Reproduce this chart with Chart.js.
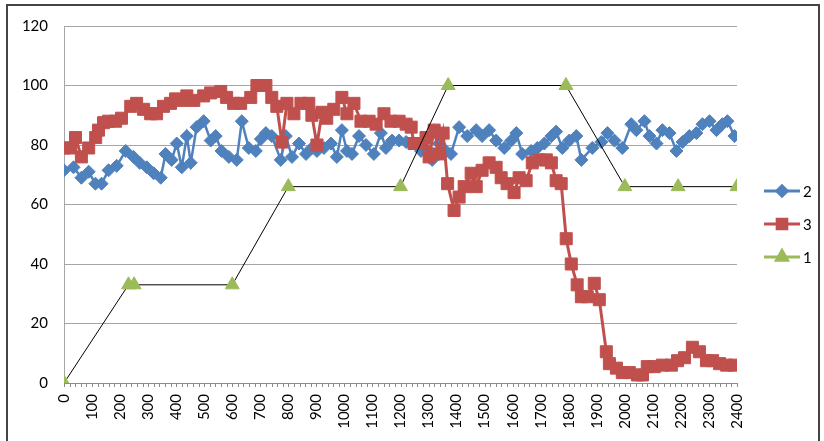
<!DOCTYPE html>
<html>
<head>
<meta charset="utf-8">
<script src="https://cdn.jsdelivr.net/npm/chart.js@4"></script>
<style>
  body { margin: 0; background: #fff; }
  #wrap { width: 824px; height: 441px; }
</style>
</head>
<body>
<div id="wrap"><canvas id="chart" width="824" height="441"></canvas></div>
<script>
// series "2" (blue diamonds)
const blueX = [0, 34, 62, 88, 112, 134, 159, 188, 220, 248, 270, 295, 320, 345, 362, 384, 402, 420, 438, 452, 473, 498, 523, 541, 562, 588, 616, 634, 659, 684, 702, 720, 741, 773, 791, 813, 838, 863, 884, 902, 927, 952, 973, 991, 1009, 1027, 1052, 1077, 1105, 1130, 1148, 1170, 1195, 1220, 1241, 1273, 1302, 1313, 1338, 1362, 1380, 1409, 1438, 1470, 1491, 1516, 1541, 1570, 1595, 1613, 1634, 1666, 1688, 1713, 1738, 1755, 1777, 1802, 1827, 1845, 1884, 1916, 1938, 1963, 1991, 2023, 2041, 2070, 2088, 2113, 2134, 2159, 2184, 2206, 2230, 2255, 2277, 2302, 2327, 2348, 2366, 2391];
const blueY = [71.5, 72.5, 69, 71, 67, 67, 71.5, 73, 78, 76, 74, 72.5, 70.5, 69, 77, 75, 80.5, 72.5, 83, 74, 86, 88, 81.5, 83, 78, 76, 75, 88, 79, 78, 82, 84, 83, 75, 83, 76, 80.5, 77, 79, 78, 79, 80.5, 76, 85, 78, 77, 83, 80, 77, 84, 79, 81.5, 81.5, 81, 80.5, 78, 78, 75, 80.5, 78, 77, 86, 83, 85, 83, 85, 81.5, 79, 81.5, 84, 77, 78, 79, 80.5, 83, 84.5, 79, 81.5, 83, 75, 79, 81, 84, 81.5, 79, 87, 85, 88, 83, 80.5, 85, 84, 78, 81, 83, 84, 87, 88, 85, 87, 88, 83];

// series "3" (red squares)
const redX = [0, 23, 41, 62, 88, 113, 123, 141, 159, 184, 205, 238, 259, 284, 309, 330, 355, 380, 398, 420, 438, 463, 498, 523, 559, 580, 605, 630, 666, 688, 720, 741, 759, 777, 795, 820, 845, 873, 884, 902, 920, 937, 962, 991, 1009, 1034, 1059, 1088, 1113, 1141, 1166, 1195, 1220, 1238, 1248, 1273, 1291, 1302, 1320, 1338, 1352, 1368, 1391, 1409, 1427, 1452, 1470, 1491, 1516, 1541, 1559, 1580, 1605, 1623, 1648, 1670, 1695, 1720, 1738, 1755, 1773, 1791, 1809, 1830, 1845, 1866, 1891, 1909, 1934, 1945, 1970, 1991, 2016, 2045, 2063, 2080, 2105, 2134, 2166, 2188, 2213, 2241, 2266, 2291, 2313, 2338, 2363, 2391];
const redY = [79, 79, 82.5, 76, 79, 82.5, 85, 87.5, 88, 88, 89, 93, 94, 92, 90.5, 90.5, 93, 94, 95.5, 95, 96.5, 95, 96.5, 97.5, 98, 96, 94, 94, 96, 100, 100, 96, 93, 81, 94, 90.5, 94, 94, 90, 80, 91, 89, 92, 96, 90.5, 94, 88, 88, 87, 90.5, 88, 88, 87, 86, 80.5, 80.5, 82.5, 76, 85, 77, 84, 67, 58, 62.5, 66, 70.5, 66, 71.5, 74, 72.5, 69, 67, 64, 69, 68, 74, 75, 75, 74, 68, 67, 48.5, 40, 33, 29, 29, 33.5, 28, 10.5, 6.5, 5, 3.5, 3.5, 2.7, 2.7, 5.5, 5.5, 6, 6, 7.5, 8.5, 12, 10.5, 7.5, 7.5, 6.5, 6, 6];

// series "1" (green triangles)
const greenX = [0, 230, 250, 600, 800, 1200, 1370, 1790, 2000, 2190, 2400];
const greenY = [0, 33, 33, 33, 66, 66, 100, 100, 66, 66, 66];

const xTicks = { min: 0, max: 2400, step: 100, minor: 20 };
const yTicks = { min: 0, max: 120, step: 20 };

const pts = (xs, ys) => xs.map((x, i) => ({ x: x, y: ys[i] }));

const FONT = "Lato, 'Open Sans', sans-serif";

const frame = {
  id: "frame",
  beforeDraw(chart) {
    const ctx = chart.ctx;
    ctx.save();
    ctx.fillStyle = "#fff";
    ctx.fillRect(0, 0, chart.width, chart.height);
    ctx.strokeStyle = "#444";
    ctx.lineWidth = 2;
    ctx.strokeRect(7, 5, 812, 445);
    ctx.restore();
  },
  afterDraw(chart) {
    // minor tick marks on the x axis
    const ctx = chart.ctx;
    const xs = chart.scales.x;
    const bottom = chart.chartArea.bottom;
    ctx.save();
    ctx.strokeStyle = "#8c8c8c";
    ctx.lineWidth = 1;
    ctx.beginPath();
    for (let v = xTicks.min; v <= xTicks.max; v += xTicks.minor) {
      const px = Math.round(xs.getPixelForValue(v)) + 0.5;
      ctx.moveTo(px, bottom);
      ctx.lineTo(px, bottom + 4);
    }
    ctx.stroke();

    // Excel-like legend: line + marker + label
    const order = [2, 1, 0];
    const labels = ["2", "3", "1"];
    const lineCols = ["#4F81BD", "#C0504D", "#9BBB59"];
    order.forEach((di, k) => {
      const ds = chart.data.datasets[di];
      const y = 191 + k * 33;
      ctx.strokeStyle = lineCols[k];
      ctx.lineWidth = 3;
      ctx.beginPath();
      ctx.moveTo(764, y);
      ctx.lineTo(800, y);
      ctx.stroke();
      ctx.fillStyle = ds.pointBackgroundColor;
      ctx.strokeStyle = ds.pointBorderColor;
      Chart.helpers.drawPoint(ctx, {
        pointStyle: ds.pointStyle,
        radius: ds.pointRadius * 0.8,
        borderWidth: 1,
        rotation: 0
      }, 782, y);
      ctx.fillStyle = "#000";
      ctx.font = "15px " + FONT;
      ctx.textBaseline = "middle";
      ctx.textAlign = "left";
      ctx.fillText(labels[k], 803, y + 1);
    });
    ctx.restore();
  }
};

new Chart(document.getElementById("chart"), {
  type: "scatter",
  data: {
    datasets: [
      {
        label: "1",
        data: pts(greenX, greenY),
        showLine: true,
        borderColor: "#000",
        borderWidth: 1,
        pointStyle: "triangle",
        pointRadius: 8,
        pointBackgroundColor: "#9BBB59",
        pointBorderColor: "#9BBB59",
        pointBorderWidth: 1,
        order: 1
      },
      {
        label: "3",
        data: pts(redX, redY),
        showLine: true,
        borderColor: "#C0504D",
        borderWidth: 3,
        pointStyle: "rect",
        pointRadius: 8.5,
        pointBackgroundColor: "#C0504D",
        pointBorderColor: "#C0504D",
        pointBorderWidth: 1,
        order: 2
      },
      {
        label: "2",
        data: pts(blueX, blueY),
        showLine: true,
        borderColor: "#4F81BD",
        borderWidth: 2.5,
        pointStyle: "rectRot",
        pointRadius: 6.5,
        pointBackgroundColor: "#4F81BD",
        pointBorderColor: "#4F81BD",
        pointBorderWidth: 1,
        order: 3
      }
    ]
  },
  options: {
    responsive: false,
    animation: false,
    layout: { padding: { left: 0, top: 26, right: 87, bottom: 0 } },
    plugins: {
      legend: { display: false },
      tooltip: { enabled: false }
    },
    elements: { line: { tension: 0 } },
    scales: {
      x: {
        type: "linear",
        min: xTicks.min,
        max: xTicks.max,
        afterFit(scale) { scale.height = 58; },
        grid: { display: false, drawTicks: false },
        border: { display: true, color: "#8c8c8c", width: 1 },
        ticks: {
          stepSize: xTicks.step,
          autoSkip: false,
          minRotation: 90,
          maxRotation: 90,
          padding: 11,
          color: "#000",
          font: { family: FONT, size: 15 },
          callback: v => String(v)
        }
      },
      y: {
        min: yTicks.min,
        max: yTicks.max,
        afterFit(scale) { scale.width = 64; },
        grid: { color: "#a6a6a6", drawTicks: false },
        border: { display: true, color: "#a6a6a6", width: 1 },
        ticks: {
          stepSize: yTicks.step,
          padding: 16,
          color: "#000",
          font: { family: FONT, size: 15 },
          callback: v => String(v)
        }
      }
    }
  },
  plugins: [frame]
});
</script>
</body>
</html>
